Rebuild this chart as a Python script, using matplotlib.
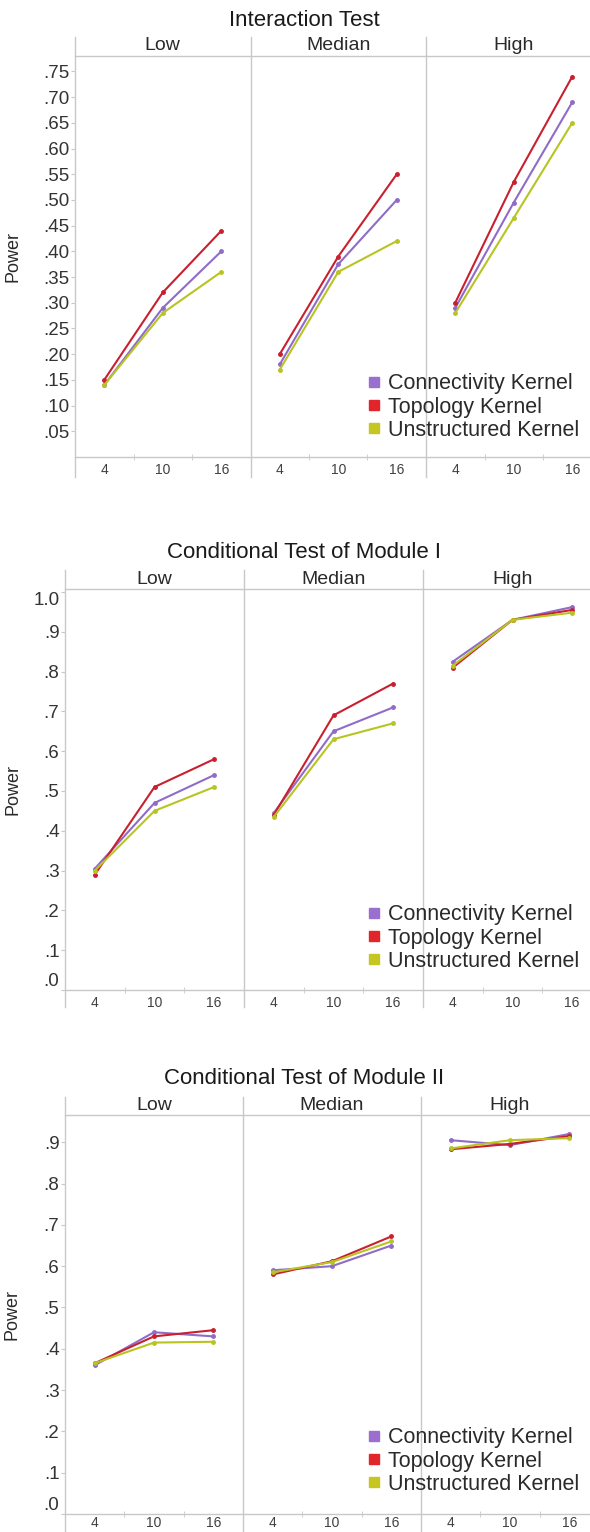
import matplotlib.pyplot as plt
from matplotlib.lines import Line2D

plt.rcParams['font.family'] = ['Liberation Sans', 'DejaVu Sans']

# Shared categories
sizes = [4, 10, 16]
groups = ['Low', 'Median', 'High']
kernels = ['Connectivity Kernel', 'Topology Kernel', 'Unstructured Kernel']
line_colors = ['#8f6cc8', '#c8202f', '#b8c422']
legend_colors = ['#9b6fd0', '#e2242b', '#c6c622']

# Interaction Test -- one list per group (Low, Median, High)
inter_conn = [[.14, .29, .40], [.18, .375, .50], [.29, .495, .69]]
inter_topo = [[.15, .32, .44], [.20, .39, .55], [.30, .535, .74]]
inter_unst = [[.14, .28, .36], [.17, .36, .42], [.28, .465, .65]]
inter_ticks = [.05, .10, .15, .20, .25, .30, .35, .40, .45, .50, .55, .60, .65, .70, .75]
inter_labels = ['.05', '.10', '.15', '.20', '.25', '.30', '.35', '.40',
                '.45', '.50', '.55', '.60', '.65', '.70', '.75']

# Conditional Test of Module I
mod1_conn = [[.305, .47, .54], [.445, .65, .71], [.825, .93, .962]]
mod1_topo = [[.29, .51, .58], [.44, .69, .77], [.81, .93, .955]]
mod1_unst = [[.30, .45, .51], [.435, .63, .67], [.815, .93, .948]]
mod1_ticks = [0, .1, .2, .3, .4, .5, .6, .7, .8, .9, 1.0]
mod1_labels = ['.0', '.1', '.2', '.3', '.4', '.5', '.6', '.7', '.8', '.9', '1.0']

# Conditional Test of Module II
mod2_conn = [[.36, .44, .43], [.59, .60, .65], [.905, .893, .92]]
mod2_topo = [[.365, .43, .445], [.58, .612, .672], [.883, .896, .915]]
mod2_unst = [[.365, .415, .417], [.585, .61, .66], [.885, .905, .91]]
mod2_ticks = [0, .1, .2, .3, .4, .5, .6, .7, .8, .9]
mod2_labels = ['.0', '.1', '.2', '.3', '.4', '.5', '.6', '.7', '.8', '.9']

W, H = 590, 1532
GRID = '#c8c8c8'
TEXT = '#2a2a2a'


def fx(px):
    return px / W


def fy(py):
    return 1 - py / H


def draw_row(fig, title, conn, topo, unst, ticks, labels, ylim, left, pw,
             top, bottom, ext_top, ext_bot, title_y, strip_y, legend_y, xpad=4):
    height = bottom - top
    series = [conn, topo, unst]
    axes = []
    for i, group in enumerate(groups):
        ax = fig.add_axes([fx(left + i * pw), fy(bottom), pw / W, height / H])
        # draw unstructured, connectivity, then topology on top
        for k in [2, 0, 1]:
            ax.plot(sizes, series[k][i], color=line_colors[k], lw=1.5,
                    marker='o', ms=2.5, zorder=3 + k)
        ax.set_xlim(1, 19)
        ax.set_ylim(*ylim)
        ax.set_xticks(sizes)
        ax.set_xticks([7, 13], minor=True)
        ax.tick_params(axis='x', which='major', length=0, pad=xpad,
                       labelsize=10, labelcolor='#404040')
        ax.tick_params(axis='x', which='minor', length=4, direction='inout',
                       color=GRID)
        for side in ['left', 'right']:
            ax.spines[side].set_visible(False)
        for side in ['top', 'bottom']:
            ax.spines[side].set_color(GRID)
            ax.spines[side].set_linewidth(1)
        ax.plot([0, 0], [-ext_bot / height, 1 + ext_top / height],
                transform=ax.transAxes, color=GRID, lw=1, clip_on=False)
        ax.text(0.5, 1 + (top - strip_y) / height, group, transform=ax.transAxes,
                ha='center', va='center', fontsize=14, color=TEXT)
        if i == 0:
            ax.set_yticks(ticks)
            ax.set_yticklabels(labels)
            ax.tick_params(axis='y', length=3, color=GRID, pad=1,
                           labelsize=13.5, labelcolor='#333333')
            tl = ax.get_yticklabels()
            if labels[0] == '.0':
                tl[0].set_va('bottom')
            if labels[-1] == '1.0':
                tl[-1].set_va('top')
            ax.set_ylabel('Power', fontsize=13, color=TEXT)
            ax.yaxis.set_label_coords((21 - left) / pw, 0.5)
        else:
            ax.set_yticks([])
        axes.append(ax)

    fig.text(fx(304), fy(title_y), title, ha='center', va='center',
             fontsize=16, color='#1a1a1a')

    handles = [Line2D([], [], marker='s', ls='none', color=c, markersize=6.5)
               for c in legend_colors]
    leg = fig.legend(handles, kernels, loc='center right',
                     bbox_to_anchor=(fx(579), fy(legend_y)), frameon=False,
                     fontsize=15.5, borderpad=0, borderaxespad=0,
                     handlelength=0.6, handletextpad=0.35, labelspacing=0.1)
    for t in leg.get_texts():
        t.set_color(TEXT)
    return axes


fig = plt.figure(figsize=(W / 100, H / 100), dpi=100)

draw_row(fig, 'Interaction Test', inter_conn, inter_topo, inter_unst,
         inter_ticks, inter_labels, (0, 0.78), left=75, pw=175.5,
         top=56, bottom=457, ext_top=19, ext_bot=20,
         title_y=20, strip_y=46, legend_y=407)

draw_row(fig, 'Conditional Test of Module I', mod1_conn, mod1_topo, mod1_unst,
         mod1_ticks, mod1_labels, (0, 1.0075), left=65, pw=179,
         top=589, bottom=990, ext_top=19, ext_bot=17,
         title_y=552, strip_y=580, legend_y=938)

draw_row(fig, 'Conditional Test of Module II', mod2_conn, mod2_topo, mod2_unst,
         mod2_ticks, mod2_labels, (0, 0.966), left=65, pw=178,
         top=1115, bottom=1514, ext_top=18, ext_bot=30,
         title_y=1078, strip_y=1106, legend_y=1461, xpad=1.5)

fig.savefig('out.png', dpi=100)
